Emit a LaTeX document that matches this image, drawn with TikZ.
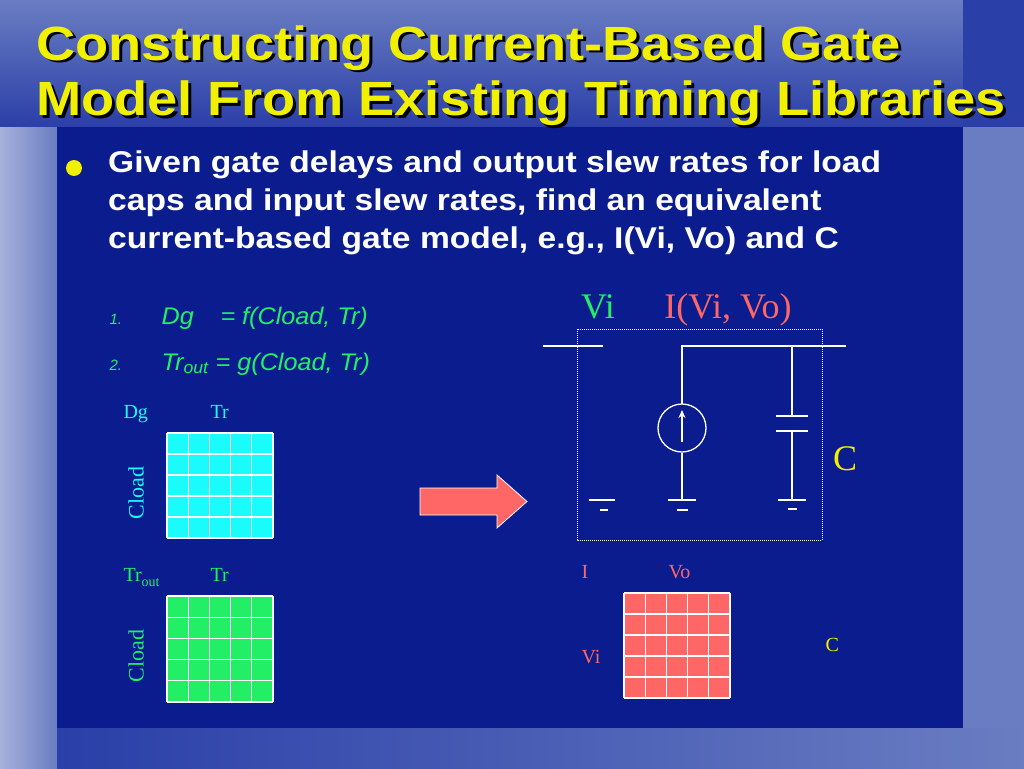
\documentclass[tikz,border=0pt]{standalone}
\usepackage{fontspec}
\usetikzlibrary{arrows.meta}
\setmainfont{Liberation Sans}
\newfontfamily\tms{Liberation Serif}
\begin{document}
\begin{tikzpicture}[x=1pt,y=-1pt,
  wire/.style={draw=white,line width=1.3pt},
  gl/.style={font=\tms\fontsize{20}{22}\selectfont,anchor=base west},
  cell/.style={draw=white,line width=1.2pt},
  ttlf/.style={anchor=base west,font=\bfseries\fontsize{48}{55}\selectfont,inner sep=0,xscale=1.13}]
\definecolor{bgl}{HTML}{6A7DC2}
\definecolor{panel}{HTML}{0A1C8E}
\definecolor{ttl}{HTML}{2A3FA8}
\definecolor{yel}{HTML}{F0F000}
\definecolor{grn}{HTML}{22EE66}
\definecolor{cyn}{HTML}{1AFCFC}
\definecolor{rd}{HTML}{FF6666}
\useasboundingbox (0,0) rectangle (1024,768);
\fill[bgl] (0,0) rectangle (1024,768);
\shade[top color=bgl,bottom color=ttl] (0,0) rectangle (963,127);
\fill[ttl] (963,0) rectangle (1024,127);
\shade[left color=bgl!60!white,right color=bgl] (0,127) rectangle (57,768);
\shade[left color=ttl,right color=bgl] (57,728) rectangle (1024,768);
\fill[panel] (57,127) rectangle (963,728);
% title
\node[ttlf,text=black] (ts) at (39,63) {Constructing Current-Based Gate};
\node[ttlf,text=black] (us) at (39,118) {Model From Existing Timing Libraries};
\node[ttlf,text=yel] (t) at (36,60) {Constructing Current-Based Gate};
\node[ttlf,text=yel] (u) at (36,115) {Model From Existing Timing Libraries};
% bullet
\fill[yel] (74,168) circle (8);
\node[anchor=north west,text=white,font=\bfseries\fontsize{30}{38}\selectfont,align=left,inner sep=0,xscale=1.12] (b) at (108,151) {Given gate delays and output slew rates for load\\caps and input slew rates, find an equivalent\\current-based gate model, e.g., I(Vi, Vo) and C};
\node[anchor=base west,text=grn,font=\itshape\fontsize{15}{16}\selectfont] (n1) at (106,324) {1.};
\node[anchor=base west,text=grn,font=\itshape\fontsize{24}{26}\selectfont,xscale=1.05] (e1) at (158,324) {Dg\enspace\ \ = f(Cload, Tr)};
\node[anchor=base west,text=grn,font=\itshape\fontsize{15}{16}\selectfont] (n2) at (106,370) {2.};
\node[anchor=base west,text=grn,font=\itshape\fontsize{24}{26}\selectfont,xscale=1.05] (e2) at (158,370) {Tr$_{\mathit{out}}$ = g(Cload, Tr)};
% grids
\fill[cyn] (167,433) rectangle (273,538);
\foreach \i in {0,...,5}{\draw[cell] (167+\i*21.2,433)--(167+\i*21.2,538); \draw[cell] (167,433+\i*21)--(273,433+\i*21);}
\node[gl,text=cyn] (dg) at (120,418) {Dg};
\node[gl,text=cyn] (tr1) at (207,418) {Tr};
\node[text=cyn,font=\tms\fontsize{22}{24}\selectfont,rotate=90] (cl1) at (136,493) {Cload};
\fill[grn] (167,596) rectangle (273,702);
\foreach \i in {0,...,5}{\draw[cell] (167+\i*21.2,596)--(167+\i*21.2,702); \draw[cell] (167,596+\i*21.2)--(273,596+\i*21.2);}
\node[gl,text=grn] (tro) at (120,581) {Tr\raisebox{-0.6ex}{\fontsize{14}{14}\selectfont out}};
\node[gl,text=grn] (tr2) at (207,581) {Tr};
\node[text=grn,font=\tms\fontsize{22}{24}\selectfont,rotate=90] (cl2) at (136,656) {Cload};
\fill[rd] (624,593) rectangle (730,698);
\foreach \i in {0,...,5}{\draw[cell] (624+\i*21.2,593)--(624+\i*21.2,698); \draw[cell] (624,593+\i*21)--(730,593+\i*21);}
\node[gl,text=rd] (il) at (578,578) {I};
\node[gl,text=rd] (vol) at (665,578) {Vo};
\node[gl,text=rd] (vil) at (578,663) {Vi};
\node[gl,text=yel] (cl) at (822,651) {C};
% arrow
\fill[rd,draw=white,line width=0.8pt] (420,488)--(497,488)--(497,475)--(527,501.5)--(497,528)--(497,515)--(420,515)--cycle;
% circuit
\draw[white,densely dotted,line width=1pt] (577,329) rectangle (822,540);
\node[anchor=base,text=grn,font=\tms\fontsize{36}{40}\selectfont] (vi) at (598,318) {Vi};
\node[anchor=base,text=rd,font=\tms\fontsize{36}{40}\selectfont] (iv) at (728,318) {I(Vi, Vo)};
\node[anchor=base,text=yel,font=\tms\fontsize{36}{40}\selectfont] (cc) at (845,470) {C};
\draw[wire] (543,346)--(603,346);
\draw[wire] (682,404)--(682,346)--(846,346);
\node[draw=white,line width=1.3pt,circle,minimum size=48pt,inner sep=0] (src) at (682,428) {};
\draw[wire] (src.south)--(682,500);
\draw[white,line width=1.3pt,-{Stealth[length=8pt,width=7pt]}] (682,442)--(682,410);
\draw[wire] (668,500)--(696,500) (677,510)--(688,510);
\draw[wire] (589,500)--(615,500) (600,510)--(608,510);
\draw[wire] (792,346)--(792,416) (776,416)--(808,416) (776,431)--(808,431) (792,431)--(792,500);
\draw[wire] (778,500)--(806,500) (788,509)--(797,509);
\end{tikzpicture}
\end{document}
